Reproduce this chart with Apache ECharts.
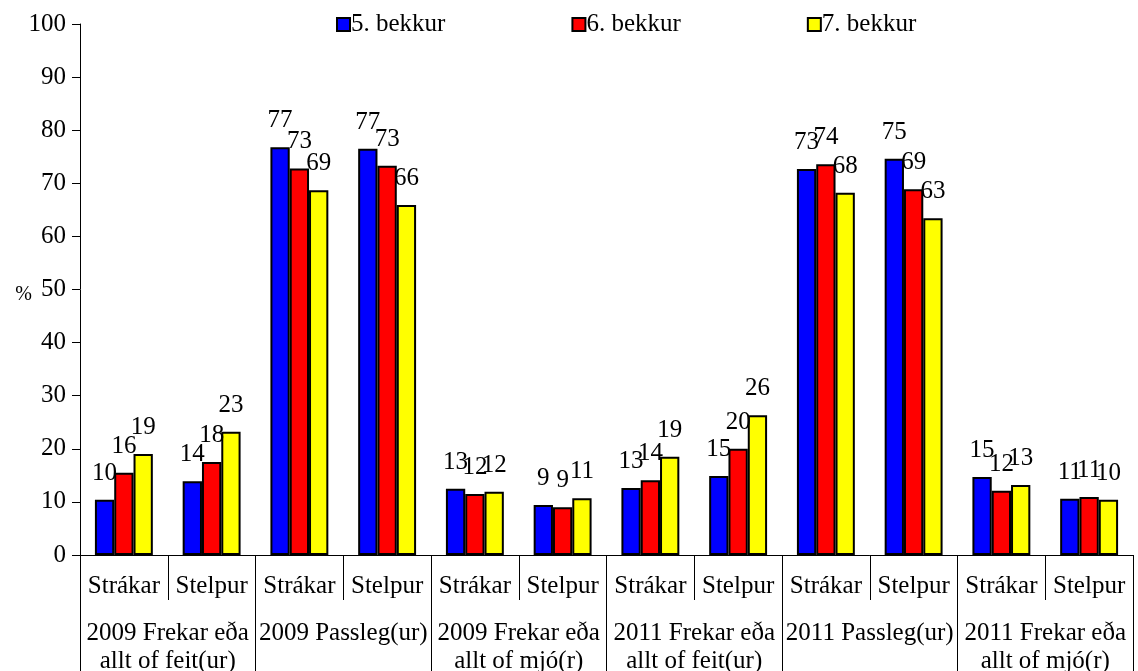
<!doctype html>
<html lang="is">
<head>
    <meta charset="UTF-8">
    <title>Líkamsmynd</title>
    <script src="https://cdn.jsdelivr.net/npm/echarts@6/dist/echarts.min.js"></script>
    <style>
        html, body { margin: 0; padding: 0; background: #fff; }
    </style>
</head>
<body>
    <div id="main" style="width: 1138px;height:671px;"></div>
    <script>
        var kyn = ['Strákar', 'Stelpur', 'Strákar', 'Stelpur', 'Strákar', 'Stelpur',
                   'Strákar', 'Stelpur', 'Strákar', 'Stelpur', 'Strákar', 'Stelpur'];
        var hopar = ['2009 Frekar eða\nallt of feit(ur)', '2009 Passleg(ur)', '2009 Frekar eða\nallt of mjó(r)',
                     '2011 Frekar eða\nallt of feit(ur)', '2011 Passleg(ur)', '2011 Frekar eða\nallt of mjó(r)'];
        var bekkur5 = [10.4, 13.9, 76.8, 76.5, 12.5, 9.4, 12.6, 14.9, 72.7, 74.6, 14.7, 10.6];
        var bekkur6 = [15.5, 17.5, 72.8, 73.3, 11.5, 9.0, 14.1, 20.0, 73.6, 68.9, 12.1, 10.9];
        var bekkur7 = [19.0, 23.2, 68.7, 65.9, 11.9, 10.7, 18.5, 26.3, 68.2, 63.4, 13.2, 10.4];
        var yTicks = [0, 10, 20, 30, 40, 50, 60, 70, 80, 90, 100];

        var font = '"Liberation Serif", "Times New Roman", serif';
        var fs = 25;
        var myChart = echarts.init(document.getElementById('main'));

        function serie(name, color, data) {
            return {
                name: name,
                type: 'bar',
                xAxisIndex: 0,
                barGap: '0%',
                barCategoryGap: '34%',
                itemStyle: { color: color, borderColor: '#000', borderWidth: 2 },
                label: {
                    show: true,
                    position: 'top',
                    distance: 14,
                    fontFamily: font,
                    fontSize: fs,
                    color: '#000',
                    formatter: function (p) { return Math.round(p.value); }
                },
                data: data
            };
        }

        myChart.setOption({
            backgroundColor: '#fff',
            animation: false,
            textStyle: { fontFamily: font },
            legend: {
                left: 331,
                top: 7,
                itemWidth: 13,
                itemHeight: 13,
                itemGap: 126,
                icon: 'rect',
                textStyle: { fontFamily: font, fontSize: fs, color: '#000', padding: [0, 0, 0, -4] },
                data: ['5. bekkur', '6. bekkur', '7. bekkur']
            },
            grid: { left: 80, right: 5, top: 24, bottom: 116, outerBoundsMode: 'none' },
            xAxis: [{
                type: 'category',
                data: kyn,
                position: 'bottom',
                axisLine: { lineStyle: { color: '#000', width: 1 } },
                axisTick: { show: true, length: 45, interval: 0, lineStyle: { color: '#000' } },
                axisLabel: { interval: 0, margin: 19, fontFamily: font, fontSize: fs, color: '#000' }
            }, {
                type: 'category',
                data: hopar,
                position: 'bottom',
                axisLine: { show: false },
                axisTick: { show: true, length: 120, interval: 0, lineStyle: { color: '#000' } },
                axisLabel: { interval: 0, margin: 64, fontFamily: font, fontSize: fs, lineHeight: 28, color: '#000', align: 'center' }
            }],
            yAxis: {
                type: 'value',
                min: 0,
                max: 100,
                interval: 10,
                name: '%',
                nameLocation: 'middle',
                nameRotate: 0,
                nameGap: 48,
                nameMoveOverlap: false,
                nameTextStyle: { fontFamily: font, fontSize: 20, color: '#000', verticalAlign: 'top', lineHeight: 10 },
                splitLine: { show: false },
                axisLine: { show: true, lineStyle: { color: '#000' } },
                axisTick: { show: true, length: 8, inside: false, lineStyle: { color: '#000' } },
                axisLabel: {
                    margin: 14, fontFamily: font, fontSize: fs, color: '#000',
                    formatter: function (v) { return yTicks.indexOf(v) >= 0 ? v : ''; }
                }
            },
            series: [
                serie('5. bekkur', '#0000ff', bekkur5),
                serie('6. bekkur', '#ff0000', bekkur6),
                serie('7. bekkur', '#ffff00', bekkur7)
            ]
        });
    </script>
</body>
</html>
